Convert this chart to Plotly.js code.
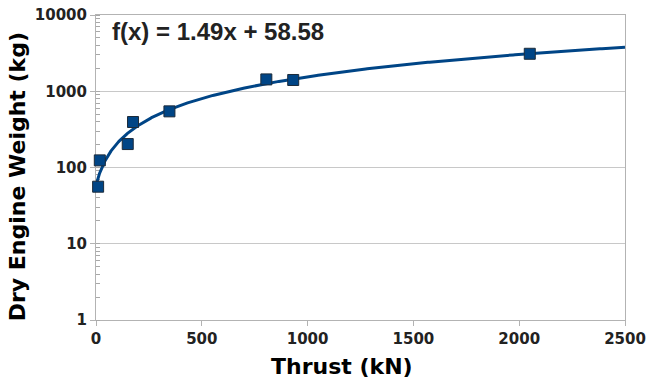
<!DOCTYPE html>
<html>
<head>
<meta charset="utf-8">
<script src="https://cdn.plot.ly/plotly-3.0.1.min.js"></script>
<style>
html,body{margin:0;padding:0;background:#fff;}
#chart{width:648px;height:383px;}
</style>
</head>
<body>
<div id="chart"></div>
<script>
// Data
const thrustKN = [10, 18, 150, 175, 347, 805, 932, 2050];
const dryWeightKg = [56, 124, 203, 395, 545, 1430, 1405, 3100];
// Trend line shown on the chart: f(x) = 1.49x + 58.58
const trendSlope = 1.49;
const trendIntercept = 58.58;
const trendXMax = 2500;
const xTickVals = [0, 500, 1000, 1500, 2000, 2500];
const yTickVals = [1, 10, 100, 1000, 10000];
const yTickText = ['1', '10', '100', '1000', '10000'];

const trendX = [];
const trendY = [];
for (let i = 0; i <= 500; i++) {
  const x = trendXMax * Math.pow(i / 500, 2);
  trendX.push(x);
  trendY.push(trendSlope * x + trendIntercept);
}

const blue = '#004586';
const grid = '#c8c8c8';
const axisCol = '#b3b3b3';
const fontFam = 'DejaVu Sans, sans-serif';

const traces = [
  {
    x: trendX, y: trendY, type: 'scatter', mode: 'lines',
    line: {color: blue, width: 3}, hoverinfo: 'skip', showlegend: false, cliponaxis: false
  },
  {
    x: thrustKN, y: dryWeightKg, type: 'scatter', mode: 'markers', cliponaxis: false,
    marker: {symbol: 'square', size: 11, color: blue, line: {color: '#1c2b3a', width: 1}},
    showlegend: false
  }
];

const layout = {
  width: 648, height: 383,
  margin: {l: 96, r: 23, t: 15, b: 63},
  paper_bgcolor: '#fff', plot_bgcolor: '#fff',
  font: {family: fontFam, color: '#000'},
  showlegend: false,
  xaxis: {
    range: [0, 2500], tickvals: xTickVals, showgrid: false, zeroline: false,
    showline: true, linecolor: axisCol, linewidth: 1, mirror: true, layer: 'below traces',
    ticks: 'outside', ticklen: 5, tickcolor: axisCol,
    tickfont: {family: fontFam, size: 15, color: '#222', weight: 'bold'}
  },
  yaxis: {
    type: 'log', range: [0, 4], tickmode: 'array', tickvals: yTickVals, ticktext: yTickText,
    showgrid: true, gridcolor: grid, gridwidth: 1, zeroline: false,
    showline: true, linecolor: axisCol, linewidth: 1, mirror: true, layer: 'below traces',
    ticks: 'outside', ticklen: 5, tickcolor: axisCol,
    minor: {tickmode: 'linear', tick0: 0, dtick: 'D1', ticks: 'inside', ticklen: 4, tickcolor: '#a8a8a8', tickwidth: 1, showgrid: false},
    tickfont: {family: fontFam, size: 15, color: '#222', weight: 'bold'}
  },
  annotations: [
    {
      xref: 'paper', yref: 'paper', x: 0.027, y: 0.945, xanchor: 'left', yanchor: 'middle',
      text: '<b>f(x) = 1.49x + 58.58</b>', showarrow: false,
      font: {family: 'Liberation Sans, Arial, sans-serif', size: 24, color: '#222'}
    },
    {
      xref: 'paper', yref: 'paper', x: 0.465, y: -0.154, xanchor: 'center', yanchor: 'middle',
      text: '<b>Thrust (kN)</b>', showarrow: false,
      font: {family: fontFam, size: 22, color: '#000'}
    },
    {
      xref: 'paper', yref: 'paper', x: -0.148, y: 0.47, xanchor: 'center', yanchor: 'middle',
      text: '<b>Dry Engine Weight (kg)</b>', showarrow: false, textangle: -90,
      font: {family: fontFam, size: 22, color: '#000'}
    }
  ]
};

Plotly.newPlot('chart', traces, layout, {displayModeBar: false, staticPlot: true});
</script>
</body>
</html>
